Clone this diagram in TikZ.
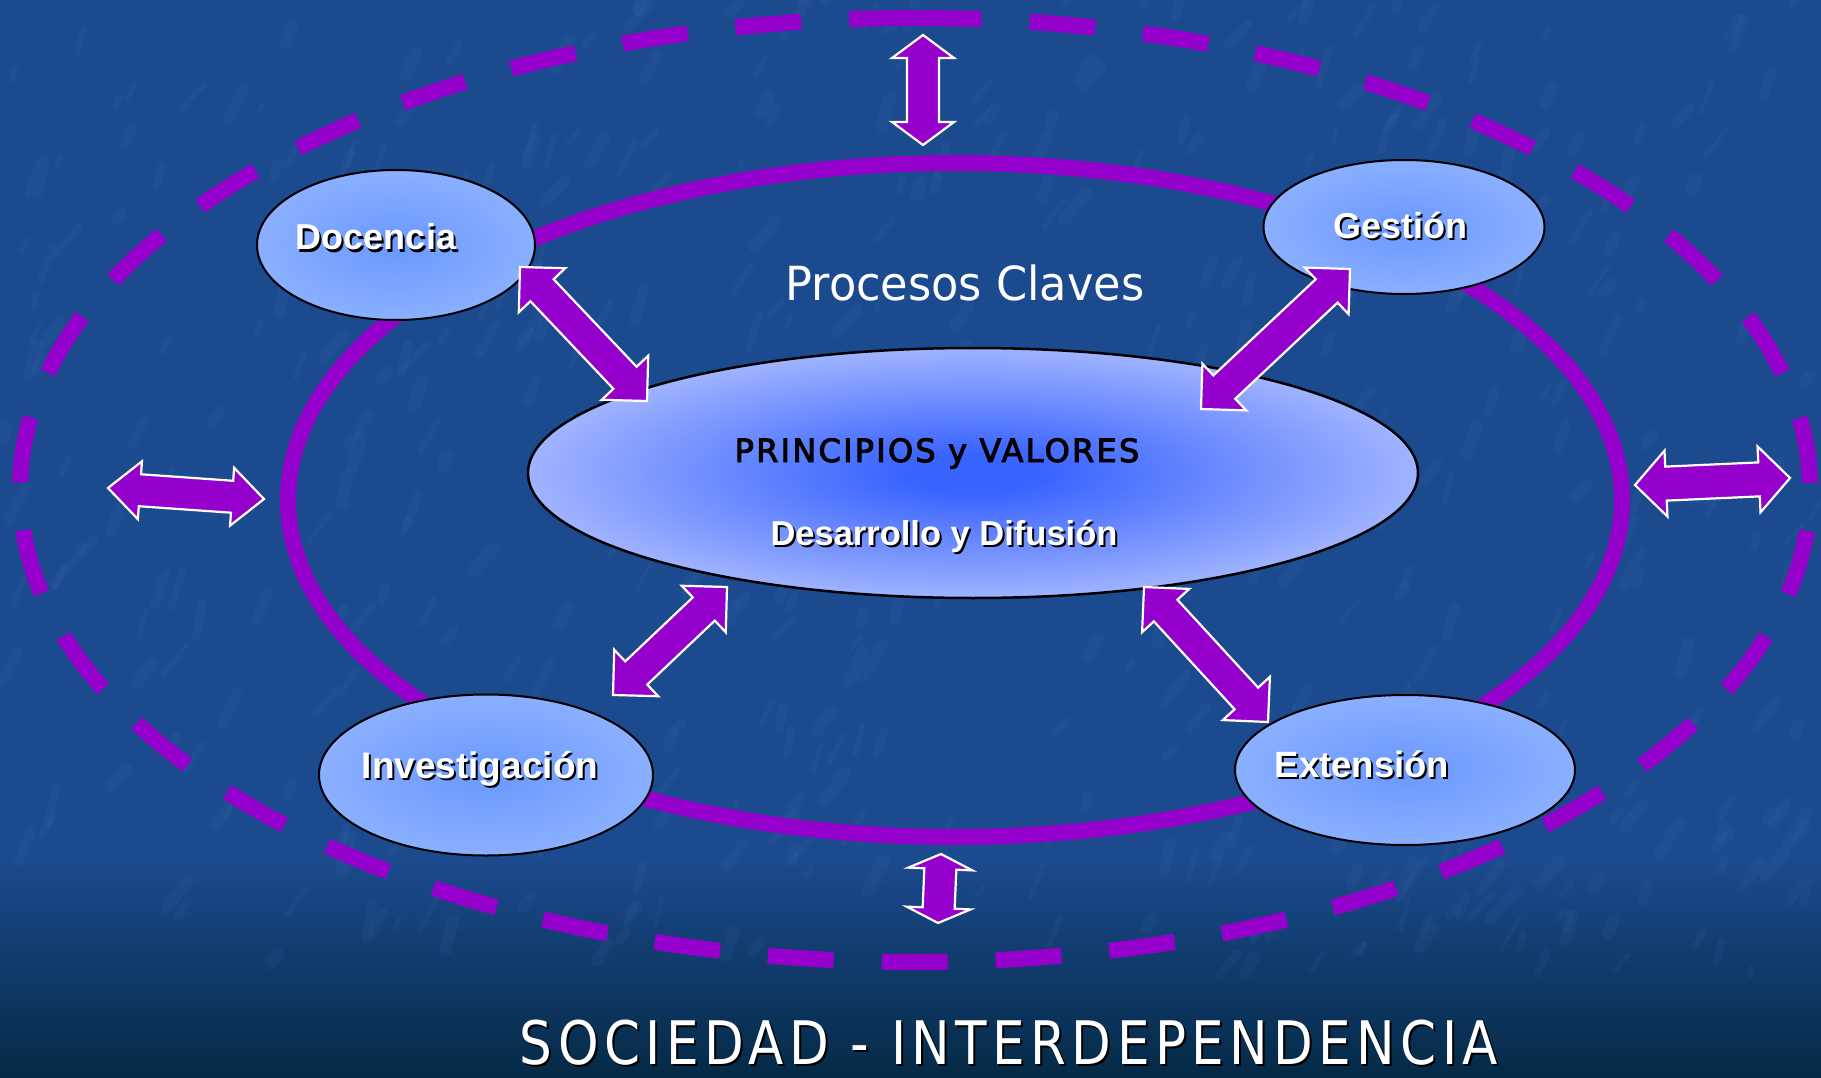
\documentclass[tikz,border=0pt]{standalone}
\usepackage{fontspec}
\usetikzlibrary{calc,shapes.geometric}
\newfontfamily\lsans{Liberation Sans}
\newfontfamily\dvs{DejaVu Sans}[FakeStretch=0.86,LetterSpace=9]
\newfontfamily\dvsp{DejaVu Sans}[FakeBold=3,LetterSpace=7]
\newfontfamily\dvsn{DejaVu Sans}[FakeStretch=0.95]

\definecolor{bgblue}{RGB}{27,74,142}
\definecolor{bgdark}{RGB}{5,42,70}
\definecolor{lila}{RGB}{150,0,204}
\definecolor{coreIn}{RGB}{58,100,255}
\definecolor{coreOut}{RGB}{188,202,255}
\definecolor{satIn}{RGB}{106,152,255}
\definecolor{satOut}{RGB}{145,180,255}
\definecolor{texc}{RGB}{100,150,215}

\pgfdeclareradialshading{coreglow}{\pgfpoint{0bp}{0bp}}{color(0bp)=(coreIn); color(4bp)=(coreIn); color(31bp)=(coreOut); color(50bp)=(coreOut)}
\pgfdeclareradialshading{satglow}{\pgfpoint{0bp}{0bp}}{color(0bp)=(satIn); color(30bp)=(satOut); color(50bp)=(satOut)}

\newcommand{\shadowed}[1]{\makebox[0pt][l]{\kern2pt\raisebox{-2pt}{\color{black}#1}}#1}

% block double arrow between two named coordinates
% #3 head length, #4 head half width, #5 shaft half width
\newcommand{\blockarrow}[5]{%
\draw[barrow] (#1) -- ($(#1)!#3!(#2)!#4!90:(#2)$) -- ($(#1)!#3!(#2)!#5!90:(#2)$)
 -- ($(#2)!#3!(#1)!#5!-90:(#1)$) -- ($(#2)!#3!(#1)!#4!-90:(#1)$) -- (#2)
 -- ($(#2)!#3!(#1)!#4!90:(#1)$) -- ($(#2)!#3!(#1)!#5!90:(#1)$)
 -- ($(#1)!#3!(#2)!#5!-90:(#2)$) -- ($(#1)!#3!(#2)!#4!-90:(#2)$) -- cycle;}

\tikzset{
 outerring/.style={draw=lila, line width=16pt, dash pattern=on 66pt off 48pt},
 innerring/.style={draw=lila, line width=16pt},
 sat/.style={ellipse, draw=black, line width=2pt, shade, shading=satglow, inner sep=0pt},
 core/.style={ellipse, draw=black, line width=2.5pt, shade, shading=coreglow, inner sep=0pt},
 barrow/.style={fill=lila, draw=white, line width=2.2pt, line join=miter},
 lbl/.style={text=white, inner sep=0pt, anchor=base, font=\lsans\bfseries\fontsize{36}{40}\selectfont},
 texline/.style={draw=texc, opacity=0.06, line cap=round}
}

\begin{document}
\begin{tikzpicture}[x=1pt,y=-1pt]
\useasboundingbox (0,0) rectangle (1821,1078);
\clip (0,0) rectangle (1821,1078);

% background
\fill[bgblue] (0,0) rectangle (1821,880);
\shade[top color=bgblue, bottom color=bgdark] (0,860) rectangle (1821,1078);
\pgfmathsetseed{4}
\foreach \i in {1,...,500}{
  \pgfmathsetmacro{\px}{rnd*1821}
  \pgfmathsetmacro{\py}{rnd*980}
  \pgfmathsetmacro{\ang}{-45-rnd*35}
  \pgfmathsetmacro{\len}{8+rnd*30}
  \pgfmathsetmacro{\lw}{4+rnd*9}
  \draw[texline, line width=\lw pt] (\px,\py) -- ++(\ang:\len);
}

% rings
\draw[outerring] (915,18) arc[start angle=90, end angle=450, x radius=895pt, y radius=472pt];
\draw[innerring] (955,500) ellipse [x radius=667pt, y radius=337pt];

% satellite ellipses
\node[sat, minimum width=278pt, minimum height=150pt] (doc) at (396,245) {};
\node[sat, minimum width=281pt, minimum height=134pt] (ges) at (1404,227) {};
\node[sat, minimum width=334pt, minimum height=161pt] (inv) at (486,775) {};
\node[sat, minimum width=340pt, minimum height=150pt] (ext) at (1405,770) {};
% central ellipse
\node[core, minimum width=890pt, minimum height=250pt] (pv) at (973,473) {};

% arrow end points
\coordinate (topA) at (923,35);   \coordinate (topB) at (923,145);
\coordinate (botA) at (941,854);  \coordinate (botB) at (938,923);
\coordinate (lefA) at (108,488);  \coordinate (lefB) at (264,499);
\coordinate (rigA) at (1635,485); \coordinate (rigB) at (1790,478);
\coordinate (docA) at (520,267);  \coordinate (docB) at (647,401);
\coordinate (gesA) at (1350,269); \coordinate (gesB) at (1201,409);
\coordinate (invA) at (727,587);  \coordinate (invB) at (613,695);
\coordinate (extA) at (1144,587); \coordinate (extB) at (1268,722);

\blockarrow{topA}{topB}{23pt}{31pt}{16pt}
\blockarrow{botA}{botB}{15pt}{32pt}{16pt}
\blockarrow{lefA}{lefB}{32pt}{29pt}{16pt}
\blockarrow{rigA}{rigB}{31pt}{33pt}{17pt}
\blockarrow{docA}{docB}{32pt}{32pt}{16pt}
\blockarrow{gesA}{gesB}{32pt}{32pt}{16pt}
\blockarrow{invA}{invB}{32pt}{32pt}{16pt}
\blockarrow{extA}{extB}{32pt}{32pt}{16pt}

% texts
\node[lbl] (doct) at (376,250) {\shadowed{Docencia}};
\node[lbl] (gest) at (1400,239) {\shadowed{Gestión}};
\node[lbl, font=\lsans\bfseries\fontsize{37}{40}\selectfont] (invt) at (480,778) {\shadowed{Investigación}};
\node[lbl, font=\lsans\bfseries\fontsize{36.5}{40}\selectfont] (extt) at (1362,777) {\shadowed{Extensión}};
\node[anchor=base, inner sep=0pt, text=white, font=\dvsn\fontsize{47}{50}\selectfont] (proc) at (965,300) {Procesos Claves};
\node[anchor=base, inner sep=0pt, text=black, font=\dvsp\fontsize{32}{36}\selectfont] (pvt) at (937,462) {PRINCIPIOS y VALORES};
\node[lbl, font=\lsans\bfseries\fontsize{34.5}{38}\selectfont] (ddt) at (944,545) {\shadowed{Desarrollo y Difusión}};
\node[anchor=base, inner sep=0pt, text=white, font=\dvs\fontsize{60}{64}\selectfont] (soc) at (1009,1064) {\shadowed{SOCIEDAD - INTERDEPENDENCIA}};
\end{tikzpicture}
\end{document}
